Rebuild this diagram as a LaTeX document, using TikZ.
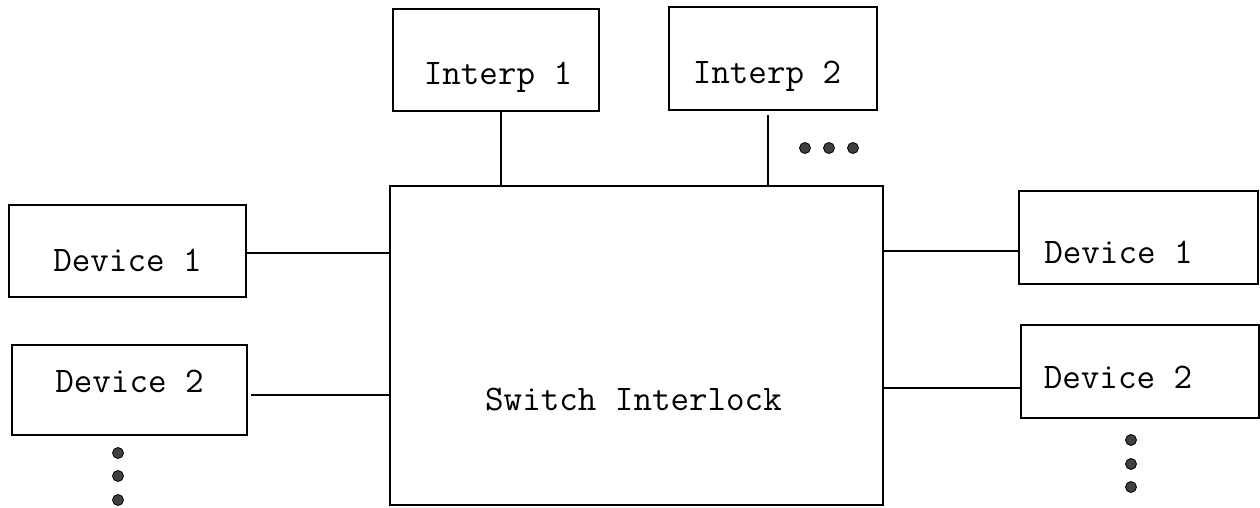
\documentclass[tikz,border=0pt]{standalone}
\usepackage{fontspec}
\tikzset{
  box/.style={draw, line width=1.8pt, inner sep=0pt, rectangle},
  lbl/.style={font=\ttfamily\fontsize{36}{36}\selectfont, text=black},
  conn/.style={line width=1.8pt},
  dotmark/.style={fill=black!75, draw=black, line width=0.8pt}
}
\begin{document}
\begin{tikzpicture}[x=1pt,y=-1pt]
\useasboundingbox (0,0) rectangle (1260,508);
% boxes
\node[box, minimum width=206pt, minimum height=102pt,
      label={[lbl,xshift=2pt,yshift=-17pt]center:Interp 1}] (I1) at (496,60) {};
\node[box, minimum width=208pt, minimum height=103pt,
      label={[lbl,xshift=-6pt,yshift=-18pt]center:Interp 2}] (I2) at (773,58.5) {};
\node[box, minimum width=493pt, minimum height=319pt,
      label={[lbl,xshift=-3pt,yshift=-54pt]center:Switch Interlock}] (S) at (636.5,345.5) {};
\node[box, minimum width=237pt, minimum height=92pt,
      label={[lbl,yshift=-9pt]center:Device 1}] (LD1) at (127.5,251) {};
\node[box, minimum width=235pt, minimum height=90pt,
      label={[lbl,yshift=9pt]center:Device 2}] (LD2) at (129.5,390) {};
\node[box, minimum width=239pt, minimum height=93pt,
      label={[lbl,xshift=-20pt,yshift=-15pt]center:Device 1}] (RD1) at (1138.5,237.5) {};
\node[box, minimum width=238pt, minimum height=93pt,
      label={[lbl,xshift=-22pt,yshift=-6pt]center:Device 2}] (RD2) at (1140,371.5) {};
% connectors
\draw[conn] ([xshift=5pt]I1.south) -- ([xshift=5pt]I1.south |- S.north);
\draw[conn] ([xshift=-5pt,yshift=-4pt]I2.south) -- ([xshift=-5pt]I2.south |- S.north);
\draw[conn] ([yshift=-2pt]LD1.east) -- ([yshift=-2pt]LD1.east -| S.west);
\draw[conn] ([xshift=3pt,yshift=-5pt]LD2.east) -- ([yshift=-5pt]LD2.east -| S.west);
\draw[conn] ([yshift=-13.5pt]RD1.west -| S.east) -- ([yshift=-13.5pt]RD1.west);
\draw[conn] ([yshift=-16.5pt]RD2.west -| S.east) -- ([yshift=-16.5pt]RD2.west);
% ellipsis dots
\foreach \x in {805,829,853} \filldraw[dotmark] (\x,148) circle (5.5pt);
\foreach \y in {453,476,500} \filldraw[dotmark] (118,\y) circle (5.5pt);
\foreach \y in {440,464,487} \filldraw[dotmark] (1131,\y) circle (5.5pt);
\end{tikzpicture}
\end{document}
